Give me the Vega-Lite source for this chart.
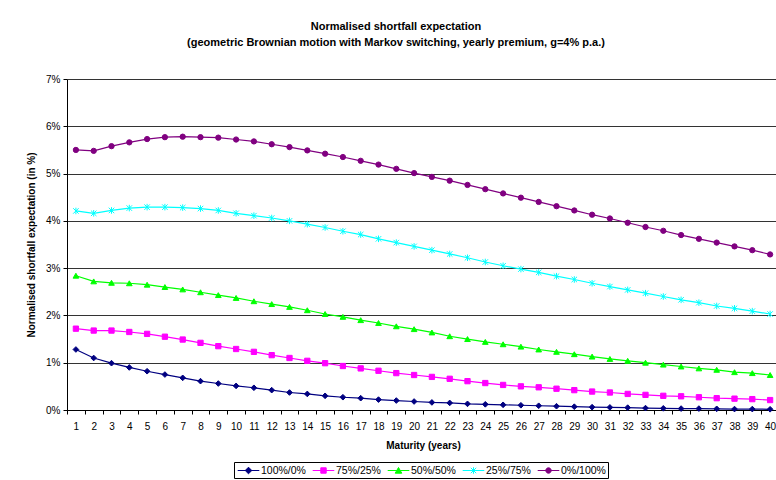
{
  "$schema": "https://vega.github.io/schema/vega-lite/v6.json",
  "autosize": "none",
  "width": 712,
  "height": 331,
  "padding": {"left": 67, "top": 79, "right": 0, "bottom": 70},
  "background": "white",
  "title": {
    "text": ["Normalised shortfall expectation", "(geometric Brownian motion with Markov switching, yearly premium, g=4% p.a.)"],
    "font": "Liberation Sans",
    "fontSize": 11,
    "fontWeight": "bold",
    "color": "black",
    "lineHeight": 16,
    "anchor": "middle",
    "offset": 26,
    "dx": -27
  },
  "data": {"values": [
    {"m":1,"s":"100%/0%","v":1.28},{"m":1,"s":"75%/25%","v":1.72},{"m":1,"s":"50%/50%","v":2.84},{"m":1,"s":"25%/75%","v":4.21},{"m":1,"s":"0%/100%","v":5.50},
    {"m":2,"s":"100%/0%","v":1.10},{"m":2,"s":"75%/25%","v":1.68},{"m":2,"s":"50%/50%","v":2.72},{"m":2,"s":"25%/75%","v":4.16},{"m":2,"s":"0%/100%","v":5.48},
    {"m":3,"s":"100%/0%","v":0.99},{"m":3,"s":"75%/25%","v":1.68},{"m":3,"s":"50%/50%","v":2.69},{"m":3,"s":"25%/75%","v":4.22},{"m":3,"s":"0%/100%","v":5.58},
    {"m":4,"s":"100%/0%","v":0.90},{"m":4,"s":"75%/25%","v":1.65},{"m":4,"s":"50%/50%","v":2.68},{"m":4,"s":"25%/75%","v":4.27},{"m":4,"s":"0%/100%","v":5.66},
    {"m":5,"s":"100%/0%","v":0.82},{"m":5,"s":"75%/25%","v":1.61},{"m":5,"s":"50%/50%","v":2.65},{"m":5,"s":"25%/75%","v":4.29},{"m":5,"s":"0%/100%","v":5.73},
    {"m":6,"s":"100%/0%","v":0.75},{"m":6,"s":"75%/25%","v":1.55},{"m":6,"s":"50%/50%","v":2.60},{"m":6,"s":"25%/75%","v":4.29},{"m":6,"s":"0%/100%","v":5.77},
    {"m":7,"s":"100%/0%","v":0.68},{"m":7,"s":"75%/25%","v":1.49},{"m":7,"s":"50%/50%","v":2.55},{"m":7,"s":"25%/75%","v":4.28},{"m":7,"s":"0%/100%","v":5.78},
    {"m":8,"s":"100%/0%","v":0.61},{"m":8,"s":"75%/25%","v":1.42},{"m":8,"s":"50%/50%","v":2.49},{"m":8,"s":"25%/75%","v":4.26},{"m":8,"s":"0%/100%","v":5.77},
    {"m":9,"s":"100%/0%","v":0.56},{"m":9,"s":"75%/25%","v":1.35},{"m":9,"s":"50%/50%","v":2.43},{"m":9,"s":"25%/75%","v":4.22},{"m":9,"s":"0%/100%","v":5.76},
    {"m":10,"s":"100%/0%","v":0.51},{"m":10,"s":"75%/25%","v":1.29},{"m":10,"s":"50%/50%","v":2.37},{"m":10,"s":"25%/75%","v":4.16},{"m":10,"s":"0%/100%","v":5.72},
    {"m":11,"s":"100%/0%","v":0.47},{"m":11,"s":"75%/25%","v":1.23},{"m":11,"s":"50%/50%","v":2.30},{"m":11,"s":"25%/75%","v":4.11},{"m":11,"s":"0%/100%","v":5.68},
    {"m":12,"s":"100%/0%","v":0.42},{"m":12,"s":"75%/25%","v":1.16},{"m":12,"s":"50%/50%","v":2.24},{"m":12,"s":"25%/75%","v":4.06},{"m":12,"s":"0%/100%","v":5.62},
    {"m":13,"s":"100%/0%","v":0.37},{"m":13,"s":"75%/25%","v":1.10},{"m":13,"s":"50%/50%","v":2.18},{"m":13,"s":"25%/75%","v":4.00},{"m":13,"s":"0%/100%","v":5.56},
    {"m":14,"s":"100%/0%","v":0.34},{"m":14,"s":"75%/25%","v":1.04},{"m":14,"s":"50%/50%","v":2.11},{"m":14,"s":"25%/75%","v":3.93},{"m":14,"s":"0%/100%","v":5.49},
    {"m":15,"s":"100%/0%","v":0.30},{"m":15,"s":"75%/25%","v":0.99},{"m":15,"s":"50%/50%","v":2.03},{"m":15,"s":"25%/75%","v":3.86},{"m":15,"s":"0%/100%","v":5.42},
    {"m":16,"s":"100%/0%","v":0.27},{"m":16,"s":"75%/25%","v":0.93},{"m":16,"s":"50%/50%","v":1.97},{"m":16,"s":"25%/75%","v":3.78},{"m":16,"s":"0%/100%","v":5.35},
    {"m":17,"s":"100%/0%","v":0.25},{"m":17,"s":"75%/25%","v":0.88},{"m":17,"s":"50%/50%","v":1.90},{"m":17,"s":"25%/75%","v":3.71},{"m":17,"s":"0%/100%","v":5.27},
    {"m":18,"s":"100%/0%","v":0.22},{"m":18,"s":"75%/25%","v":0.83},{"m":18,"s":"50%/50%","v":1.84},{"m":18,"s":"25%/75%","v":3.62},{"m":18,"s":"0%/100%","v":5.19},
    {"m":19,"s":"100%/0%","v":0.20},{"m":19,"s":"75%/25%","v":0.78},{"m":19,"s":"50%/50%","v":1.77},{"m":19,"s":"25%/75%","v":3.54},{"m":19,"s":"0%/100%","v":5.10},
    {"m":20,"s":"100%/0%","v":0.18},{"m":20,"s":"75%/25%","v":0.74},{"m":20,"s":"50%/50%","v":1.71},{"m":20,"s":"25%/75%","v":3.46},{"m":20,"s":"0%/100%","v":5.01},
    {"m":21,"s":"100%/0%","v":0.16},{"m":21,"s":"75%/25%","v":0.70},{"m":21,"s":"50%/50%","v":1.64},{"m":21,"s":"25%/75%","v":3.38},{"m":21,"s":"0%/100%","v":4.93},
    {"m":22,"s":"100%/0%","v":0.15},{"m":22,"s":"75%/25%","v":0.66},{"m":22,"s":"50%/50%","v":1.56},{"m":22,"s":"25%/75%","v":3.30},{"m":22,"s":"0%/100%","v":4.85},
    {"m":23,"s":"100%/0%","v":0.13},{"m":23,"s":"75%/25%","v":0.61},{"m":23,"s":"50%/50%","v":1.50},{"m":23,"s":"25%/75%","v":3.22},{"m":23,"s":"0%/100%","v":4.76},
    {"m":24,"s":"100%/0%","v":0.12},{"m":24,"s":"75%/25%","v":0.57},{"m":24,"s":"50%/50%","v":1.44},{"m":24,"s":"25%/75%","v":3.13},{"m":24,"s":"0%/100%","v":4.67},
    {"m":25,"s":"100%/0%","v":0.11},{"m":25,"s":"75%/25%","v":0.53},{"m":25,"s":"50%/50%","v":1.39},{"m":25,"s":"25%/75%","v":3.05},{"m":25,"s":"0%/100%","v":4.58},
    {"m":26,"s":"100%/0%","v":0.10},{"m":26,"s":"75%/25%","v":0.50},{"m":26,"s":"50%/50%","v":1.34},{"m":26,"s":"25%/75%","v":2.98},{"m":26,"s":"0%/100%","v":4.49},
    {"m":27,"s":"100%/0%","v":0.09},{"m":27,"s":"75%/25%","v":0.48},{"m":27,"s":"50%/50%","v":1.28},{"m":27,"s":"25%/75%","v":2.91},{"m":27,"s":"0%/100%","v":4.40},
    {"m":28,"s":"100%/0%","v":0.08},{"m":28,"s":"75%/25%","v":0.45},{"m":28,"s":"50%/50%","v":1.23},{"m":28,"s":"25%/75%","v":2.83},{"m":28,"s":"0%/100%","v":4.31},
    {"m":29,"s":"100%/0%","v":0.07},{"m":29,"s":"75%/25%","v":0.42},{"m":29,"s":"50%/50%","v":1.18},{"m":29,"s":"25%/75%","v":2.76},{"m":29,"s":"0%/100%","v":4.22},
    {"m":30,"s":"100%/0%","v":0.06},{"m":30,"s":"75%/25%","v":0.39},{"m":30,"s":"50%/50%","v":1.13},{"m":30,"s":"25%/75%","v":2.68},{"m":30,"s":"0%/100%","v":4.13},
    {"m":31,"s":"100%/0%","v":0.055},{"m":31,"s":"75%/25%","v":0.37},{"m":31,"s":"50%/50%","v":1.08},{"m":31,"s":"25%/75%","v":2.61},{"m":31,"s":"0%/100%","v":4.05},
    {"m":32,"s":"100%/0%","v":0.05},{"m":32,"s":"75%/25%","v":0.34},{"m":32,"s":"50%/50%","v":1.04},{"m":32,"s":"25%/75%","v":2.54},{"m":32,"s":"0%/100%","v":3.96},
    {"m":33,"s":"100%/0%","v":0.04},{"m":33,"s":"75%/25%","v":0.32},{"m":33,"s":"50%/50%","v":1.00},{"m":33,"s":"25%/75%","v":2.47},{"m":33,"s":"0%/100%","v":3.87},
    {"m":34,"s":"100%/0%","v":0.035},{"m":34,"s":"75%/25%","v":0.30},{"m":34,"s":"50%/50%","v":0.96},{"m":34,"s":"25%/75%","v":2.40},{"m":34,"s":"0%/100%","v":3.79},
    {"m":35,"s":"100%/0%","v":0.03},{"m":35,"s":"75%/25%","v":0.29},{"m":35,"s":"50%/50%","v":0.92},{"m":35,"s":"25%/75%","v":2.33},{"m":35,"s":"0%/100%","v":3.70},
    {"m":36,"s":"100%/0%","v":0.03},{"m":36,"s":"75%/25%","v":0.27},{"m":36,"s":"50%/50%","v":0.88},{"m":36,"s":"25%/75%","v":2.27},{"m":36,"s":"0%/100%","v":3.62},
    {"m":37,"s":"100%/0%","v":0.025},{"m":37,"s":"75%/25%","v":0.25},{"m":37,"s":"50%/50%","v":0.85},{"m":37,"s":"25%/75%","v":2.20},{"m":37,"s":"0%/100%","v":3.54},
    {"m":38,"s":"100%/0%","v":0.02},{"m":38,"s":"75%/25%","v":0.24},{"m":38,"s":"50%/50%","v":0.80},{"m":38,"s":"25%/75%","v":2.15},{"m":38,"s":"0%/100%","v":3.46},
    {"m":39,"s":"100%/0%","v":0.02},{"m":39,"s":"75%/25%","v":0.23},{"m":39,"s":"50%/50%","v":0.78},{"m":39,"s":"25%/75%","v":2.09},{"m":39,"s":"0%/100%","v":3.38},
    {"m":40,"s":"100%/0%","v":0.015},{"m":40,"s":"75%/25%","v":0.21},{"m":40,"s":"50%/50%","v":0.74},{"m":40,"s":"25%/75%","v":2.03},{"m":40,"s":"0%/100%","v":3.29}
  ]},
  "encoding": {
    "x": {
      "field": "m", "type": "ordinal",
      "scale": {"type": "band", "paddingInner": 0, "paddingOuter": 0},
      "axis": {
        "title": "Maturity (years)",
        "labelAngle": 0,
        "tickBand": "extent",
        "domainColor": "black",
        "tickColor": "black",
        "tickSize": 4,
        "labelPadding": 7,
        "titlePadding": 9,
        "labelFontSize": 10,
        "labelColor": "black",
        "titleFontSize": 10,
        "titleFontWeight": "bold",
        "titleColor": "black",
        "grid": false
      }
    },
    "y": {
      "field": "v", "type": "quantitative",
      "scale": {"domain": [0, 7], "nice": false, "zero": true},
      "axis": {
        "title": "Normalised shortfall expectation (in %)",
        "values": [0, 1, 2, 3, 4, 5, 6, 7],
        "labelExpr": "datum.value + '%'",
        "domainColor": "black",
        "tickColor": "black",
        "tickSize": 4,
        "labelPadding": 3,
        "titlePadding": 9,
        "labelFontSize": 10,
        "labelColor": "black",
        "titleFontSize": 10,
        "titleFontWeight": "bold",
        "titleColor": "black",
        "grid": true,
        "gridColor": "black",
        "gridOpacity": 0.8,
        "gridWidth": 1
      }
    }
  },
  "layer": [
    {
      "mark": {"type": "line", "strokeWidth": 1.2},
      "encoding": {
        "color": {
          "field": "s", "type": "nominal",
          "scale": {
            "domain": ["100%/0%", "75%/25%", "50%/50%", "25%/75%", "0%/100%"],
            "range": ["#000080", "#FF00FF", "#00FF00", "#00FFFF", "#800080"]
          },
          "legend": {
            "title": null,
            "orient": "none",
            "legendX": 167,
            "legendY": 383,
            "direction": "horizontal",
            "columns": 5,
            "symbolSize": 144,
            "symbolOffset": 6,
            "labelOffset": 6,
            "columnPadding": 4,
            "padding": 2,
            "strokeColor": "black",
            "labelFontSize": 10.5,
            "labelColor": "black",
            "labelFont": "Liberation Sans",
            "encode": {
              "symbols": {
                "update": {
                  "shape": {"signal": "datum.value === '100%/0%' ? 'M-1.8,0H1.8M0,-0.55L0.55,0L0,0.55L-0.55,0Z' : datum.value === '75%/25%' ? 'M-1.8,0H1.8M-0.45,-0.45H0.45V0.45H-0.45Z' : datum.value === '50%/50%' ? 'M-1.8,0H1.8M0,-0.5L0.55,0.45H-0.55Z' : datum.value === '25%/75%' ? 'M-1.8,0H1.8M-0.45,-0.45L0.45,0.45M0.45,-0.45L-0.45,0.45M0,-0.55V0.55' : 'M-1.8,0H1.8M0.45,0A0.45,0.45,0,1,1,-0.45,0A0.45,0.45,0,1,1,0.45,0Z'"},
                  "fill": {"scale": "color", "field": "value"},
                  "stroke": {"scale": "color", "field": "value"},
                  "strokeWidth": {"value": 1},
                  "opacity": {"value": 1}
                }
              }
            }
          }
        }
      }
    },
    {
      "transform": [{"filter": "datum.s === '100%/0%'"}],
      "mark": {"type": "point", "shape": "diamond", "filled": true, "size": 32, "fill": "#000080", "stroke": "#000080", "strokeWidth": 1, "opacity": 1}
    },
    {
      "transform": [{"filter": "datum.s === '75%/25%'"}],
      "mark": {"type": "point", "shape": "square", "filled": true, "size": 28, "fill": "#FF00FF", "stroke": "#FF00FF", "strokeWidth": 1, "opacity": 1}
    },
    {
      "transform": [{"filter": "datum.s === '50%/50%'"}],
      "mark": {"type": "point", "shape": "triangle-up", "filled": true, "size": 32, "fill": "#00FF00", "stroke": "#00FF00", "strokeWidth": 1, "opacity": 1}
    },
    {
      "transform": [{"filter": "datum.s === '25%/75%'"}],
      "mark": {"type": "point", "shape": "M-1,-1L1,1M1,-1L-1,1M0,-1.2V1.2", "filled": false, "size": 30, "stroke": "#00FFFF", "strokeWidth": 1, "opacity": 1}
    },
    {
      "transform": [{"filter": "datum.s === '0%/100%'"}],
      "mark": {"type": "point", "shape": "circle", "filled": true, "size": 28, "fill": "#800080", "stroke": "#800080", "strokeWidth": 1, "opacity": 1}
    }
  ],
  "config": {
    "font": "Liberation Sans",
    "view": {"stroke": null},
    "axis": {"labelFont": "Liberation Sans", "titleFont": "Liberation Sans"}
  }
}
